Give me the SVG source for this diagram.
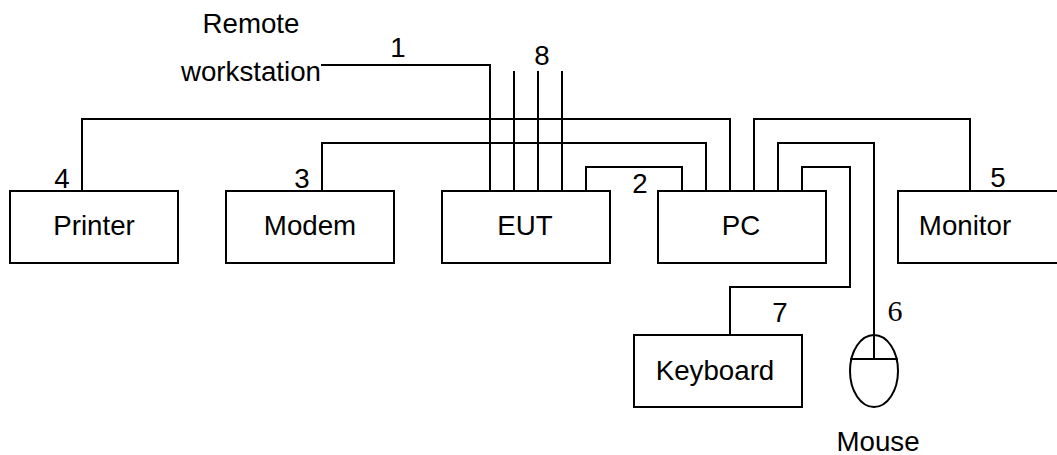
<svg xmlns="http://www.w3.org/2000/svg" width="1057" height="455" viewBox="0 0 1057 455">
<style>
.b{fill:#fff;stroke:#000;stroke-width:2}
.c{fill:none;stroke:#000;stroke-width:2}
text{font-family:"Liberation Sans",Arial,sans-serif;font-size:27.7px;fill:#000;text-anchor:middle}
.s{font-family:"Liberation Serif","Times New Roman",serif;font-size:30px}
</style>
<rect width="1057" height="455" fill="#fff"/>
<g id="connectors">
<path class="c" d="M321 65H490V191"/>
<path class="c" d="M514 71V191"/>
<path class="c" d="M538 71V191"/>
<path class="c" d="M562 71V191"/>
<path class="c" d="M82 191V119H730V191"/>
<path class="c" d="M322 191V143H706V191"/>
<path class="c" d="M586 191V167H682V191"/>
<path class="c" d="M754 191V119H970V191"/>
<path class="c" d="M778 191V143H874V359"/>
<path class="c" d="M802 191V167H850V287H730V335"/>
</g>
<g id="printer"><rect class="b" x="10" y="191" width="168" height="72"/><text x="94" y="235">Printer</text></g>
<g id="modem"><rect class="b" x="226" y="191" width="168" height="72"/><text x="310" y="235">Modem</text></g>
<g id="eut"><rect class="b" x="442" y="191" width="168" height="72"/><text x="525" y="235">EUT</text></g>
<g id="pc"><rect class="b" x="658" y="191" width="168" height="72"/><text x="741" y="235">PC</text></g>
<g id="monitor"><rect class="b" x="898" y="191" width="168" height="72"/><text x="965" y="235">Monitor</text></g>
<g id="keyboard"><rect class="b" x="634" y="335" width="168" height="72"/><text x="715" y="380">Keyboard</text></g>
<g id="mouse"><ellipse class="c" cx="874" cy="371" rx="24" ry="36"/><path class="c" d="M850 359H898"/><text x="878" y="451">Mouse</text></g>
<g id="remote"><text x="251" y="33">Remote</text><text x="251" y="81">workstation</text></g>
<g id="labels">
<text x="398" y="57">1</text>
<text x="640" y="193">2</text>
<text x="302" y="188">3</text>
<text x="62" y="188">4</text>
<text x="998" y="187">5</text>
<text class="s" x="895" y="321">6</text>
<text x="780" y="322">7</text>
<text x="542" y="65">8</text>
</g>
</svg>
